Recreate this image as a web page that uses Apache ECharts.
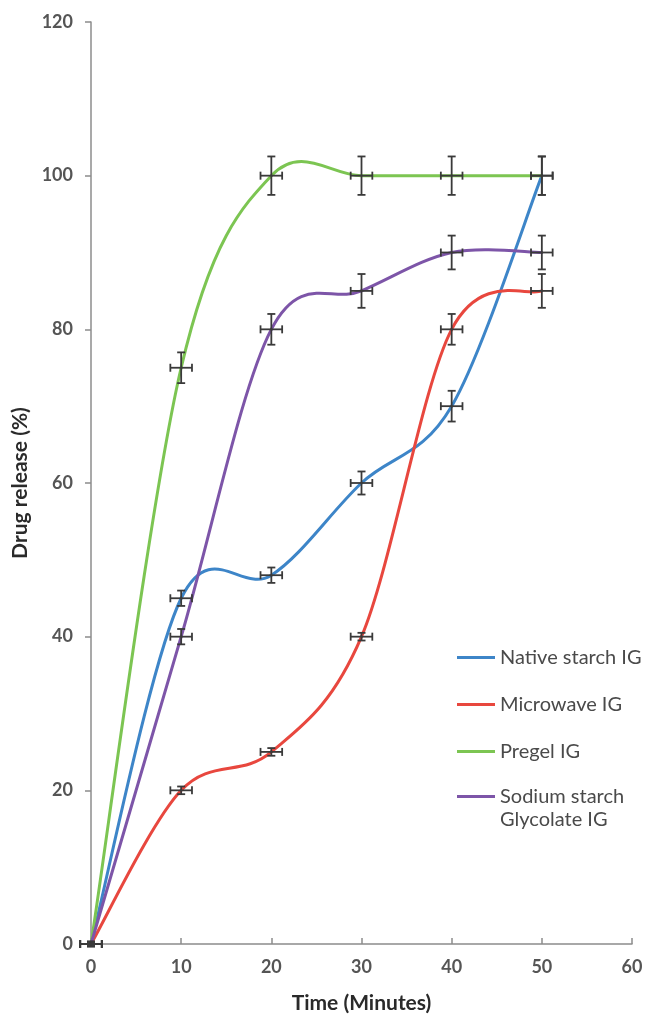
<!DOCTYPE html>
<html>
<head>
<meta charset="utf-8">
<script src="https://cdn.jsdelivr.net/npm/echarts@6/dist/echarts.min.js"></script>
<style>
  html, body { margin: 0; padding: 0; background: #fff; }
  #chart { width: 649px; height: 1019px; }
</style>
</head>
<body>
<div id="chart"></div>
<script>
// Sampling times (minutes)
const times = [0, 10, 20, 30, 40, 50];

// Cumulative drug release (%) for each formulation
const nativeStarch = [0, 45, 48, 60, 70, 100];
const microwave    = [0, 20, 25, 40, 80, 85];
const pregel       = [0, 75, 100, 100, 100, 100];
const sodiumStarch = [0, 40, 80, 85, 90, 90];

// Standard deviation of release (%)
const nativeStarchSd = [0.3, 1, 1, 1.5, 2, 2.5];
const microwaveSd    = [0.3, 0.5, 0.5, 0.5, 2, 2.2];
const pregelSd       = [0.3, 2, 2.5, 2.5, 2.5, 2.5];
const sodiumStarchSd = [0.3, 1, 2, 2.2, 2.2, 2.2];

// Uncertainty on sampling time (minutes)
const timeSd = 1.2;

const seriesNames = ['Native starch IG', 'Microwave IG', 'Pregel IG', 'Sodium starch\nGlycolate IG'];
const seriesColors = ['#3d85c8', '#e8473e', '#7cc552', '#7d55a8'];
const yTicks = [0, 20, 40, 60, 80, 100, 120];

const values = [nativeStarch, microwave, pregel, sodiumStarch];
const sds = [nativeStarchSd, microwaveSd, pregelSd, sodiumStarchSd];

const FONT = 'Lato';
const chart = echarts.init(document.getElementById('chart'));

const labelFont = { fontFamily: FONT, fontSize: 18, fontWeight: 'bold', color: '#555555' };

// Smoothed curve: each segment is a cubic Bezier whose control points
// follow the Catmull-Rom rule (neighbour difference / 6).
function renderSmoothSegment(color) {
  return function (params, api) {
    const i = params.dataIndexInside;
    const n = params.dataInsideLength;
    if (i >= n - 1) return null;
    const pt = k => api.coord([api.value(0, k), api.value(1, k)]);
    const p1 = pt(i);
    const p2 = pt(i + 1);
    const p0 = i > 0 ? pt(i - 1) : p1;
    const p3 = i + 2 < n ? pt(i + 2) : p2;
    return {
      type: 'bezierCurve',
      shape: {
        x1: p1[0], y1: p1[1],
        x2: p2[0], y2: p2[1],
        cpx1: p1[0] + (p2[0] - p0[0]) / 6,
        cpy1: p1[1] + (p2[1] - p0[1]) / 6,
        cpx2: p2[0] - (p3[0] - p1[0]) / 6,
        cpy2: p2[1] - (p3[1] - p1[1]) / 6
      },
      style: { stroke: color, lineWidth: 3, fill: null, lineCap: 'round' }
    };
  };
}

const lineSeries = values.map((vals, i) => ({
  name: seriesNames[i],
  type: 'custom',
  data: times.map((t, j) => [t, vals[j]]),
  encode: { x: 0, y: 1 },
  renderItem: renderSmoothSegment(seriesColors[i]),
  itemStyle: { color: seriesColors[i] },
  silent: true,
  z: 2
}));

// Cross-shaped error bars (time and release) with end caps
const errorSeries = values.map((vals, i) => ({
  name: seriesNames[i] + ' error',
  type: 'custom',
  data: times.map((t, j) => [t, vals[j], sds[i][j]]),
  encode: { x: 0, y: 1 },
  renderItem: function (params, api) {
    const x = api.value(0), y = api.value(1), sd = api.value(2);
    const top = api.coord([x, y + sd]);
    const bot = api.coord([x, y - sd]);
    const left = api.coord([x - timeSd, y]);
    const right = api.coord([x + timeSd, y]);
    const cap = 4;
    const style = { stroke: '#3a3a3a', lineWidth: 1.8, fill: null };
    return {
      type: 'group',
      children: [
        { type: 'line', shape: { x1: top[0], y1: top[1], x2: bot[0], y2: bot[1] }, style },
        { type: 'line', shape: { x1: top[0] - cap, y1: top[1], x2: top[0] + cap, y2: top[1] }, style },
        { type: 'line', shape: { x1: bot[0] - cap, y1: bot[1], x2: bot[0] + cap, y2: bot[1] }, style },
        { type: 'line', shape: { x1: left[0], y1: left[1], x2: right[0], y2: right[1] }, style },
        { type: 'line', shape: { x1: left[0], y1: left[1] - cap, x2: left[0], y2: left[1] + cap }, style },
        { type: 'line', shape: { x1: right[0], y1: right[1] - cap, x2: right[0], y2: right[1] + cap }, style }
      ]
    };
  },
  z: 3,
  silent: true
}));

const legendBase = {
  orient: 'vertical',
  left: 452,
  itemGap: 24,
  itemWidth: 38,
  itemHeight: 3,
  icon: 'rect',
  textStyle: { fontFamily: FONT, fontSize: 20, color: '#4a4a4a', lineHeight: 23 }
};

// Single-line entries share one legend; the wrapped entry gets its own so
// that its swatch lines up with the first line of the label.
const singleLine = seriesNames.filter(n => n.indexOf('\n') < 0);
const wrapped = seriesNames.filter(n => n.indexOf('\n') >= 0);

chart.setOption({
  animation: false,
  backgroundColor: '#ffffff',
  grid: { left: 91, right: 17, top: 22, bottom: 74, containLabel: false },
  legend: [
    Object.assign({}, legendBase, { data: singleLine, top: 641 }),
    Object.assign({}, legendBase, {
      data: wrapped,
      top: 757,
      formatter: name => ' \n' + name
    })
  ],
  xAxis: {
    type: 'value',
    min: 0,
    max: 60,
    interval: 10,
    name: 'Time (Minutes)',
    nameLocation: 'middle',
    nameGap: 49,
    nameTextStyle: { fontFamily: FONT, fontSize: 21, fontWeight: 'bold', color: '#2a2a2a' },
    axisLine: { lineStyle: { color: '#8c8c8c', width: 1.5 } },
    axisTick: { inside: true, length: 6, lineStyle: { color: '#8c8c8c', width: 1.5 } },
    axisLabel: Object.assign({ margin: 14 }, labelFont),
    splitLine: { show: false }
  },
  yAxis: {
    type: 'value',
    min: 0,
    max: 120,
    interval: 20,
    name: 'Drug release (%)',
    nameLocation: 'middle',
    nameGap: 59,
    nameRotate: 90,
    nameTextStyle: { fontFamily: FONT, fontSize: 21, fontWeight: 'bold', color: '#2a2a2a' },
    axisLine: { show: true, lineStyle: { color: '#8c8c8c', width: 1.5 } },
    axisTick: { show: true, length: 6, lineStyle: { color: '#8c8c8c', width: 1.5 } },
    axisLabel: Object.assign({
      margin: 18,
      formatter: function (v) { return yTicks.indexOf(v) >= 0 ? String(v) : ''; }
    }, labelFont),
    splitLine: { show: false }
  },
  series: lineSeries.concat(errorSeries)
});
</script>
</body>
</html>
